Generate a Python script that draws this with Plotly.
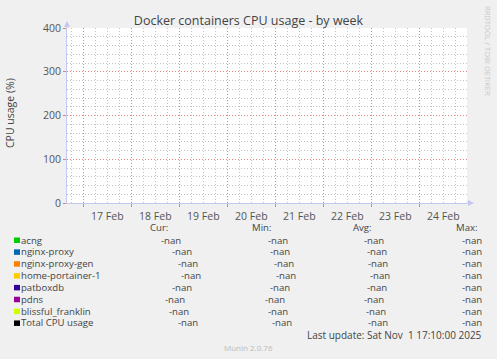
import plotly.graph_objects as go

# ---------------- data ----------------
series_names = ["acng", "nginx-proxy", "nginx-proxy-gen", "home-portainer-1",
                "patboxdb", "pdns", "blissful_franklin", "Total CPU usage"]
series_colors = ["#00CC00", "#0066B3", "#FF8000", "#FFCC00",
                 "#330099", "#990099", "#CCFF00", "#000000"]
time_points = ["2025-02-16 15:50", "2025-02-24 23:50"]
series_values = {name: [None, None] for name in series_names}  # all NaN
cur_vals = ["-nan"] * 8
min_vals = ["-nan"] * 8
avg_vals = ["-nan"] * 8
max_vals = ["-nan"] * 8
y_range = [0, 400]
title_text = "Docker containers CPU usage - by week"
y_title = "CPU usage (%)"
last_update = "Last update: Sat Nov  1 17:10:00 2025"
footer = "Munin 2.0.76"
watermark = "RRDTOOL / TOBI OETIKER"

# ---------------- layout geometry (pixels) ----------------
W, H = 497, 359
L, R, T, B = 67, 30, 28, 156
PW, PH = W - L - R, H - T - B


def px(x):
    return (x - L) / PW


def py(y):
    return (H - B - y) / PH


FONT = "Open Sans"
TXT = "#444444"
RED_GRID = "rgba(220,110,110,0.85)"
GRAY_GRID = "rgba(185,185,185,0.85)"
AXIS = "#c4c8ee"
LEG_SIZE = 9.6

fig = go.Figure()
for name, color in zip(series_names, series_colors):
    fig.add_trace(go.Scatter(x=time_points, y=series_values[name], mode="lines",
                             line=dict(color=color, width=1), name=name,
                             showlegend=False, connectgaps=False))

fig.update_layout(
    width=W, height=H,
    margin=dict(l=L, r=R, t=T, b=B, pad=0, autoexpand=False),
    paper_bgcolor="#F0F0F0", plot_bgcolor="#FFFFFF",
    font=dict(family=FONT, color=TXT, size=10),
    title=dict(text=title_text, x=0.5, xanchor="center", xref="container",
               y=1 - 21 / H, yanchor="middle", yref="container",
               font=dict(family=FONT, size=12.5, color="#444444")),
    showlegend=False,
)

fig.update_xaxes(
    type="date", range=time_points, dtick=86400000, tickformat="%d %b",
    ticklabelmode="period", ticks="outside", ticklen=3, tickcolor=RED_GRID,
    showgrid=True, gridcolor=RED_GRID, griddash="1px,2px", gridwidth=1,
    minor=dict(dtick=21600000, showgrid=True, gridcolor=GRAY_GRID,
               griddash="1px,2px", ticks=""),
    showline=True, linecolor=AXIS, linewidth=1,
    tickfont=dict(size=10.5, color="#555555"), zeroline=False, fixedrange=True,
)
fig.update_yaxes(
    range=y_range, dtick=100, ticks="outside", ticklen=3, tickcolor=RED_GRID,
    showgrid=True, gridcolor=RED_GRID, griddash="1px,2px", gridwidth=1,
    minor=dict(dtick=20, showgrid=True, gridcolor=GRAY_GRID,
               griddash="1px,2px", ticks=""),
    showline=True, linecolor=AXIS, linewidth=1, zeroline=False,
    tickfont=dict(size=10.5, color="#555555"), fixedrange=True,
)

ann = []
# axis arrows
ann.append(dict(xref="paper", yref="paper", x=px(67), y=py(21), ax=0, ay=9,
                text="", showarrow=True, arrowhead=2, arrowsize=1.2,
                arrowwidth=1, arrowcolor=AXIS))
ann.append(dict(xref="paper", yref="paper", x=px(474), y=py(203), ax=-9, ay=0,
                text="", showarrow=True, arrowhead=2, arrowsize=1.2,
                arrowwidth=1, arrowcolor=AXIS))
# y-axis title
ann.append(dict(xref="paper", yref="paper", x=px(10), y=py(113), text=y_title,
                textangle=-90, showarrow=False, xanchor="center", yanchor="middle",
                font=dict(size=10.5, color=TXT)))
# watermark
ann.append(dict(xref="paper", yref="paper", x=px(488), y=py(51), text=watermark,
                textangle=90, showarrow=False, xanchor="center", yanchor="middle",
                font=dict(size=7.5, color="#c8c8c8")))

# legend table
row_y0, row_step = 240, 11.85
headers = [("Cur:", 159), ("Min:", 261), ("Avg:", 362), ("Max:", 467)]
for h, hx in headers:
    ann.append(dict(xref="paper", yref="paper", x=px(hx), y=py(227.5), text=h,
                    showarrow=False, xanchor="center", yanchor="middle",
                    borderpad=0, font=dict(size=LEG_SIZE, color=TXT)))

cur_x = [160, 171, 177, 180, 171, 164, 168, 177]
min_x = [267, 269, 273, 275, 269, 264, 267, 271]
avg_x = [363, 366, 367, 369, 366, 363, 365, 367]
max_right = 483

shapes = []
for i, (name, color) in enumerate(zip(series_names, series_colors)):
    yc = row_y0 + i * row_step
    shapes.append(dict(type="rect", xref="paper", yref="paper",
                       x0=px(14), x1=px(20), y0=py(yc + 3), y1=py(yc - 2.5),
                       fillcolor=color, line=dict(width=0)))
    ann.append(dict(xref="paper", yref="paper", x=px(20), y=py(yc), text=name,
                    showarrow=False, xanchor="left", yanchor="middle",
                    borderpad=0, font=dict(size=LEG_SIZE, color=TXT)))
    for vals, xs in ((cur_vals, cur_x), (min_vals, min_x), (avg_vals, avg_x)):
        ann.append(dict(xref="paper", yref="paper", x=px(xs[i]), y=py(yc),
                        text=vals[i], showarrow=False, xanchor="left",
                        yanchor="middle", borderpad=0,
                        font=dict(size=LEG_SIZE, color=TXT)))
    ann.append(dict(xref="paper", yref="paper", x=px(max_right), y=py(yc),
                    text=max_vals[i], showarrow=False, xanchor="right",
                    yanchor="middle", borderpad=0,
                    font=dict(size=LEG_SIZE, color=TXT)))

ann.append(dict(xref="paper", yref="paper", x=px(483), y=py(335), text=last_update,
                showarrow=False, xanchor="right", yanchor="middle", borderpad=0,
                font=dict(size=10, color=TXT)))
ann.append(dict(xref="paper", yref="paper", x=px(248), y=py(347), text=footer,
                showarrow=False, xanchor="center", yanchor="middle", borderpad=0,
                font=dict(size=8, color="#bbbbbb")))

fig.update_layout(annotations=ann, shapes=shapes)
fig.write_html("out.html", config={"displayModeBar": False},
               post_script="document.body.style.margin='0px';"
                           "document.body.style.overflow='hidden';")
